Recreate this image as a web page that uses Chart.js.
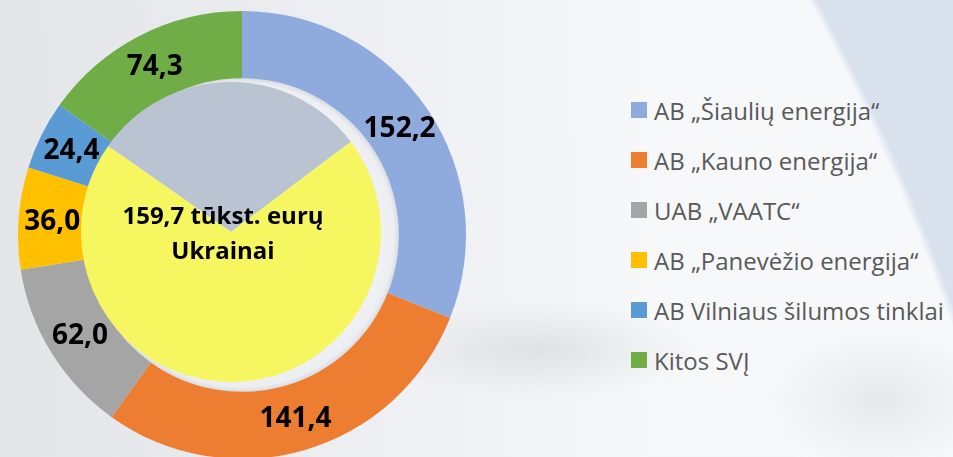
<!DOCTYPE html>
<html>
<head>
<meta charset="utf-8">
<script src="https://cdn.jsdelivr.net/npm/chart.js@4.4.1/dist/chart.umd.min.js"></script>
<style>
  html, body { margin: 0; padding: 0; }
  body {
    width: 953px; height: 457px; overflow: hidden; position: relative;
    background:
      radial-gradient(ellipse 160px 50px at 540px 350px, rgba(200,203,208,0.45), rgba(200,203,208,0) 100%),
      radial-gradient(ellipse 110px 70px at 880px 400px, rgba(205,208,214,0.4), rgba(205,208,214,0) 100%),
      linear-gradient(to right, rgba(214,217,222,0.6) 0%, rgba(226,229,233,0.45) 40%, rgba(255,255,255,0) 68%),
      radial-gradient(circle 2092px at -1020px 1000px, #f5f6f8 0%, #f7f8fa 99.6%, #d9e1ed 100%);
  }
  #ring { position: absolute; left: 18px; top: 11px; }
  #inner { position: absolute; left: 81px; top: 82px; }
  #legend { position: absolute; left: 631px; top: 85px; font-family: "Open Sans", sans-serif; font-size: 24px; color: #595959; }
  #legend .item { display: flex; align-items: center; height: 50px; white-space: nowrap; }
  #legend .box { width: 16px; height: 16px; margin-right: 7px; flex: none; }
</style>
</head>
<body>
<canvas id="ring" width="448" height="448"></canvas>
<canvas id="inner" width="300" height="300"></canvas>
<div id="legend"></div>
<script>
const categories = ["AB „Šiaulių energija“", "AB „Kauno energija“", "UAB „VAATC“", "AB „Panevėžio energija“", "AB Vilniaus šilumos tinklai", "Kitos SVĮ"];
const values = [152.2, 141.4, 62.0, 36.0, 24.4, 74.3];
const colors = ["#8FAADC", "#ED7D31", "#A5A5A5", "#FFC000", "#5B9BD5", "#70AD47"];

// inner pie: share of the circle, gray part and yellow part
const innerLabels = ["Kita", "Ukrainai"];
const innerShares = [30, 70];
const innerColors = ["#B9C3D1", "#F6F660"];
const centerText = ["159,7 tūkst. eurų", "Ukrainai"];

const fmt = v => v.toFixed(1).replace(".", ",");

// light disc inside the ring hole
const holePlugin = {
  id: "hole",
  beforeDatasetsDraw(chart) {
    const arc = chart.getDatasetMeta(0).data[0];
    const { x, y, innerRadius } = arc.getProps(["x", "y", "innerRadius"], true);
    const ctx = chart.ctx;
    const g = ctx.createRadialGradient(x, y, innerRadius * 0.8, x, y, innerRadius);
    g.addColorStop(0, "#f3f4f7");
    g.addColorStop(0.85, "#eceef2");
    g.addColorStop(1, "#d8dbe0");
    ctx.save();
    ctx.beginPath();
    ctx.arc(x, y, innerRadius, 0, Math.PI * 2);
    ctx.fillStyle = g;
    ctx.fill();
    ctx.restore();
  }
};

const ringLabels = {
  id: "ringLabels",
  afterDatasetsDraw(chart) {
    const ctx = chart.ctx;
    ctx.save();
    ctx.font = "bold 28px 'Open Sans', sans-serif";
    ctx.fillStyle = "#000";
    ctx.textAlign = "center";
    ctx.textBaseline = "middle";
    chart.getDatasetMeta(0).data.forEach((arc, i) => {
      const p = arc.getProps(["x", "y", "startAngle", "endAngle", "innerRadius", "outerRadius"], true);
      const a = (p.startAngle + p.endAngle) / 2;
      const r = (p.innerRadius + p.outerRadius) / 2;
      ctx.fillText(fmt(values[i]), p.x + r * Math.cos(a), p.y + r * Math.sin(a) + 1);
    });
    ctx.restore();
  }
};

new Chart(document.getElementById("ring"), {
  type: "doughnut",
  data: {
    labels: categories,
    datasets: [{ data: values, backgroundColor: colors, borderWidth: 0 }]
  },
  options: {
    responsive: false,
    animation: false,
    devicePixelRatio: 1,
    cutout: "70%",
    layout: { padding: 0 },
    plugins: { legend: { display: false }, tooltip: { enabled: false } }
  },
  plugins: [holePlugin, ringLabels]
});

const centerPlugin = {
  id: "centerText",
  afterDatasetsDraw(chart) {
    const arc = chart.getDatasetMeta(0).data[0];
    const { x, y } = arc.getProps(["x", "y"], true);
    const ctx = chart.ctx;
    ctx.save();
    ctx.font = "bold 24px 'Open Sans', sans-serif";
    ctx.fillStyle = "#000";
    ctx.textAlign = "center";
    ctx.textBaseline = "middle";
    ctx.fillText(centerText[0], x - 8, y - 15);
    ctx.fillText(centerText[1], x - 8, y + 20);
    ctx.restore();
  }
};

new Chart(document.getElementById("inner"), {
  type: "pie",
  data: {
    labels: innerLabels,
    datasets: [{ data: innerShares, backgroundColor: innerColors, borderWidth: 0, rotation: -55 }]
  },
  options: {
    responsive: false,
    animation: false,
    devicePixelRatio: 1,
    layout: { padding: 0 },
    plugins: { legend: { display: false }, tooltip: { enabled: false } }
  },
  plugins: [centerPlugin]
});

// legend
const legend = document.getElementById("legend");
categories.forEach((c, i) => {
  const item = document.createElement("div");
  item.className = "item";
  const box = document.createElement("span");
  box.className = "box";
  box.style.background = colors[i];
  const txt = document.createElement("span");
  txt.textContent = c;
  item.appendChild(box);
  item.appendChild(txt);
  legend.appendChild(item);
});
</script>
</body>
</html>
